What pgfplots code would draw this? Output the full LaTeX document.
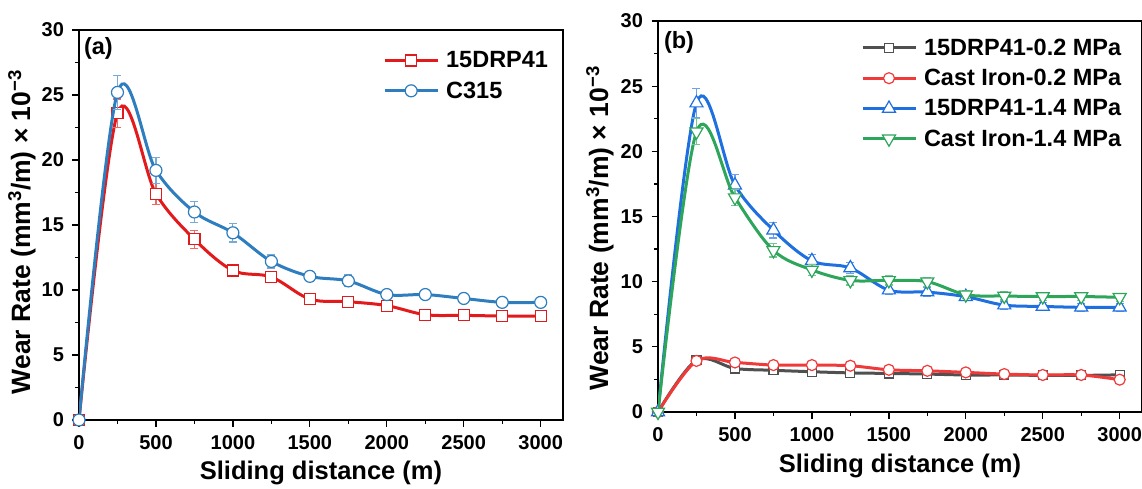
\documentclass[border=0pt]{standalone}
\usepackage{pgfplots}
\pgfplotsset{compat=1.18}
\usepackage{fontspec}
\setmainfont{Liberation Sans}
\definecolor{ared}{HTML}{E31A1C}
\definecolor{ablue}{HTML}{2E7EBF}
\definecolor{bgrey}{HTML}{505050}
\definecolor{bred}{HTML}{F03A3A}
\definecolor{bblue}{HTML}{1E6FE0}
\definecolor{bgreen}{HTML}{2DA55A}
\pgfplotsset{
  mystyle/.style={
    scale only axis, width=484pt, height=390pt,
    xmin=0, xmax=3145, ymin=0, ymax=30,
    clip mode=individual,
    xtick={0,500,...,3000}, ytick={0,5,...,30},
    minor x tick num=1, minor y tick num=1,
    xtick pos=bottom, ytick pos=left, tick align=outside,
    major tick length=6.5pt, minor tick length=4pt,
    axis line style={line width=1.3pt, black},
    every tick/.style={line width=1.3pt, black},
    /pgf/number format/assume math mode=true,
    /pgf/number format/1000 sep={},
    tick label style={font=\bfseries\fontsize{20}{20}\selectfont},
    xticklabel style={yshift=-5pt},
    yticklabel style={xshift=-5pt},
    xlabel={Sliding distance (m)},
    ylabel={Wear Rate (mm\textsuperscript{3}/m) × 10\textsuperscript{−3}},
    every axis x label/.style={at={(axis description cs:0.5,-0.137)}, anchor=center, font=\bfseries\fontsize{25.5}{25.5}\selectfont},
    legend style={draw=none, fill=none, inner sep=0pt, column sep=5pt, row sep=8.5pt,
      nodes={inner sep=2pt, anchor=west}, font=\bfseries\fontsize{23.5}{23.5}\selectfont},
    legend cell align=left,
    legend image code/.code={\draw[mark repeat=2,mark phase=2] plot coordinates {(0pt,0pt) (26.5pt,0pt) (53pt,0pt)};},
  },
  ser/.style={color=#1, line width=3pt, smooth, tension=0.55,
    every mark/.append style={fill=white, line width=1.2pt, solid},
    error bars/y dir=both, error bars/y explicit,
    error bars/error bar style={line width=1.2pt, color=#1!65},
    error bars/error mark options={rotate=90, mark size=4pt, line width=1.2pt, color=#1!65}},
}
\begin{document}
\begin{tikzpicture}
\useasboundingbox (0pt,0pt) rectangle (1142pt,488pt);
\begin{axis}[mystyle, at={(79pt,68pt)}, anchor=south west,
  every axis y label/.style={at={(axis description cs:-0.118,0.482)}, rotate=90, anchor=center, font=\bfseries\fontsize{26.5}{26.5}\selectfont},
  legend style={at={(axis description cs:0.628,0.95)}, anchor=north west}]
\addplot[ser=ared, mark=square*, mark size=5.5pt] table[x=x,y=y,y error=e] {
x y e
0 0 0
250 23.6 1.1
500 17.4 0.8
750 13.9 0.7
1000 11.5 0.45
1250 11.0 0.45
1500 9.3 0.3
1750 9.1 0.3
2000 8.8 0.3
2250 8.1 0.25
2500 8.05 0.25
2750 8.0 0.2
3000 8.0 0.2
};
\addlegendentry{15DRP41}
\addplot[ser=ablue, mark=*, mark size=6pt] table[x=x,y=y,y error=e] {
x y e
0 0 0
250 25.2 1.3
500 19.2 1.0
750 16.0 0.8
1000 14.4 0.7
1250 12.2 0.5
1500 11.05 0.4
1750 10.7 0.45
2000 9.65 0.3
2250 9.65 0.3
2500 9.35 0.3
2750 9.05 0.25
3000 9.05 0.25
};
\addlegendentry{C315}
\node[anchor=west, font=\bfseries\fontsize{23.5}{23.5}\selectfont, inner sep=0pt] at (axis description cs:0.01,0.953) {(a)};
\end{axis}
\begin{axis}[mystyle, at={(658pt,76pt)}, anchor=south west, height=391pt,
  every axis y label/.style={at={(axis description cs:-0.12,0.47)}, rotate=90, anchor=center, font=\bfseries\fontsize{26.5}{26.5}\selectfont},
  legend style={at={(axis description cs:0.419,0.96)}, anchor=north west}]
\addplot[ser=bgrey, mark=square*, mark size=4.5pt] table[x=x,y=y,y error=e] {
x y e
0 0 0
250 3.97 0.25
500 3.34 0.25
750 3.2 0.2
1000 3.09 0.2
1250 3.0 0.2
1500 2.96 0.2
1750 2.91 0.2
2000 2.84 0.2
2250 2.84 0.2
2500 2.81 0.2
2750 2.81 0.2
3000 2.85 0.2
};
\addlegendentry{15DRP41-0.2 MPa}
\addplot[ser=bred, mark=*, mark size=5.5pt] table[x=x,y=y,y error=e] {
x y e
0 0 0
250 3.92 0.25
500 3.8 0.25
750 3.6 0.25
1000 3.6 0.25
1250 3.55 0.25
1500 3.24 0.25
1750 3.16 0.25
2000 3.04 0.2
2250 2.91 0.2
2500 2.84 0.2
2750 2.84 0.2
3000 2.48 0.25
};
\addlegendentry{Cast Iron-0.2 MPa}
\addplot[ser=bblue, mark=triangle*, mark size=7.5pt] table[x=x,y=y,y error=e] {
x y e
0 0 0
250 23.7 1.1
500 17.4 0.8
750 13.95 0.6
1000 11.6 0.5
1250 11.05 0.45
1500 9.35 0.35
1750 9.2 0.35
2000 8.85 0.3
2250 8.2 0.3
2500 8.1 0.3
2750 8.03 0.3
3000 8.03 0.3
};
\addlegendentry{15DRP41-1.4 MPa}
\addplot[ser=bgreen, mark=triangle*, mark size=7.5pt, every mark/.append style={rotate=180}] table[x=x,y=y,y error=e] {
x y e
0 0 0
250 21.5 1.0
500 16.45 0.6
750 12.4 0.5
1000 10.9 0.4
1250 10.1 0.35
1500 10.1 0.35
1750 10.0 0.35
2000 9.0 0.3
2250 8.9 0.3
2500 8.86 0.3
2750 8.86 0.3
3000 8.8 0.3
};
\addlegendentry{Cast Iron-1.4 MPa}
\node[anchor=west, font=\bfseries\fontsize{23.5}{23.5}\selectfont, inner sep=0pt] at (axis description cs:0.012,0.945) {(b)};
\end{axis}
\end{tikzpicture}
\end{document}
